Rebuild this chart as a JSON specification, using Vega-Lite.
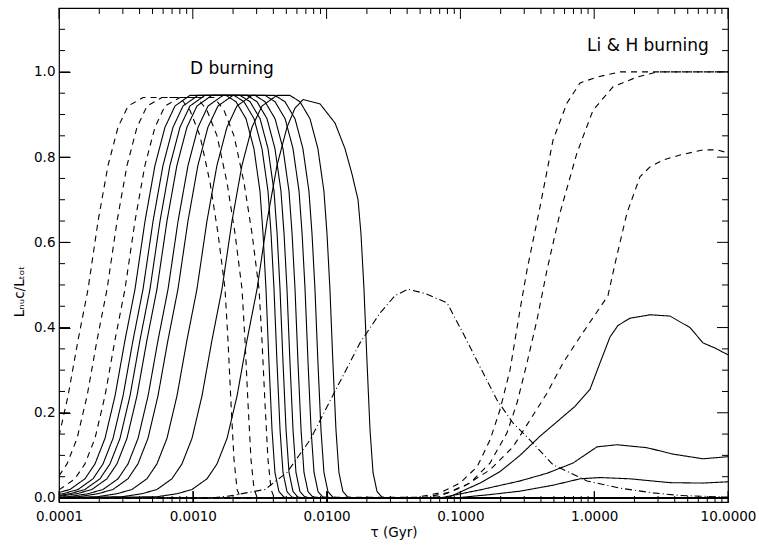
{
"$schema": "https://vega.github.io/schema/vega-lite/v6.json",
"width": 669, "height": 494, "autosize": "none",
"padding": {"left": 59, "top": 8, "right": 31, "bottom": 44},
"background": "white",
"config": {"view": {"stroke": "black", "strokeWidth": 1.2}, "font": "DejaVu Sans"},
"datasets": {
"notes": [{"t": 0.001963, "v": 1.008, "label": "D burning"}, {"t": 2.524, "v": 1.06, "label": "Li & H burning"}],
"xticks": [
{"t":0.0001,"a":-0.0094,"b":0.0164},{"t":0.001,"a":-0.0094,"b":0.0164},{"t":0.01,"a":-0.0094,"b":0.0164},{"t":0.1,"a":-0.0094,"b":0.0164},{"t":1,"a":-0.0094,"b":0.0164},{"t":10,"a":-0.0094,"b":0.0164},
{"t":0.0001,"a":1.1242,"b":1.15},{"t":0.001,"a":1.1242,"b":1.15},{"t":0.01,"a":1.1242,"b":1.15},{"t":0.1,"a":1.1242,"b":1.15},{"t":1,"a":1.1242,"b":1.15},{"t":10,"a":1.1242,"b":1.15},
{"t":0.0002,"a":-0.0094,"b":0.0047},{"t":0.0003,"a":-0.0094,"b":0.0047},{"t":0.0004,"a":-0.0094,"b":0.0047},{"t":0.0005,"a":-0.0094,"b":0.0047},{"t":0.0006,"a":-0.0094,"b":0.0047},{"t":0.0007,"a":-0.0094,"b":0.0047},{"t":0.0008,"a":-0.0094,"b":0.0047},{"t":0.0009,"a":-0.0094,"b":0.0047},
{"t":0.002,"a":-0.0094,"b":0.0047},{"t":0.003,"a":-0.0094,"b":0.0047},{"t":0.004,"a":-0.0094,"b":0.0047},{"t":0.005,"a":-0.0094,"b":0.0047},{"t":0.006,"a":-0.0094,"b":0.0047},{"t":0.007,"a":-0.0094,"b":0.0047},{"t":0.008,"a":-0.0094,"b":0.0047},{"t":0.009,"a":-0.0094,"b":0.0047},
{"t":0.02,"a":-0.0094,"b":0.0047},{"t":0.03,"a":-0.0094,"b":0.0047},{"t":0.04,"a":-0.0094,"b":0.0047},{"t":0.05,"a":-0.0094,"b":0.0047},{"t":0.06,"a":-0.0094,"b":0.0047},{"t":0.07,"a":-0.0094,"b":0.0047},{"t":0.08,"a":-0.0094,"b":0.0047},{"t":0.09,"a":-0.0094,"b":0.0047},
{"t":0.2,"a":-0.0094,"b":0.0047},{"t":0.3,"a":-0.0094,"b":0.0047},{"t":0.4,"a":-0.0094,"b":0.0047},{"t":0.5,"a":-0.0094,"b":0.0047},{"t":0.6,"a":-0.0094,"b":0.0047},{"t":0.7,"a":-0.0094,"b":0.0047},{"t":0.8,"a":-0.0094,"b":0.0047},{"t":0.9,"a":-0.0094,"b":0.0047},
{"t":2,"a":-0.0094,"b":0.0047},{"t":3,"a":-0.0094,"b":0.0047},{"t":4,"a":-0.0094,"b":0.0047},{"t":5,"a":-0.0094,"b":0.0047},{"t":6,"a":-0.0094,"b":0.0047},{"t":7,"a":-0.0094,"b":0.0047},{"t":8,"a":-0.0094,"b":0.0047},{"t":9,"a":-0.0094,"b":0.0047},
{"t":0.0002,"a":1.1359,"b":1.15},{"t":0.0003,"a":1.1359,"b":1.15},{"t":0.0004,"a":1.1359,"b":1.15},{"t":0.0005,"a":1.1359,"b":1.15},{"t":0.0006,"a":1.1359,"b":1.15},{"t":0.0007,"a":1.1359,"b":1.15},{"t":0.0008,"a":1.1359,"b":1.15},{"t":0.0009,"a":1.1359,"b":1.15},
{"t":0.002,"a":1.1359,"b":1.15},{"t":0.003,"a":1.1359,"b":1.15},{"t":0.004,"a":1.1359,"b":1.15},{"t":0.005,"a":1.1359,"b":1.15},{"t":0.006,"a":1.1359,"b":1.15},{"t":0.007,"a":1.1359,"b":1.15},{"t":0.008,"a":1.1359,"b":1.15},{"t":0.009,"a":1.1359,"b":1.15},
{"t":0.02,"a":1.1359,"b":1.15},{"t":0.03,"a":1.1359,"b":1.15},{"t":0.04,"a":1.1359,"b":1.15},{"t":0.05,"a":1.1359,"b":1.15},{"t":0.06,"a":1.1359,"b":1.15},{"t":0.07,"a":1.1359,"b":1.15},{"t":0.08,"a":1.1359,"b":1.15},{"t":0.09,"a":1.1359,"b":1.15},
{"t":0.2,"a":1.1359,"b":1.15},{"t":0.3,"a":1.1359,"b":1.15},{"t":0.4,"a":1.1359,"b":1.15},{"t":0.5,"a":1.1359,"b":1.15},{"t":0.6,"a":1.1359,"b":1.15},{"t":0.7,"a":1.1359,"b":1.15},{"t":0.8,"a":1.1359,"b":1.15},{"t":0.9,"a":1.1359,"b":1.15},
{"t":2,"a":1.1359,"b":1.15},{"t":3,"a":1.1359,"b":1.15},{"t":4,"a":1.1359,"b":1.15},{"t":5,"a":1.1359,"b":1.15},{"t":6,"a":1.1359,"b":1.15},{"t":7,"a":1.1359,"b":1.15},{"t":8,"a":1.1359,"b":1.15},{"t":9,"a":1.1359,"b":1.15}
],
"yticks": [
{"v":0,"a":0.0001,"b":0.00012084},{"v":0.2,"a":0.0001,"b":0.00012084},{"v":0.4,"a":0.0001,"b":0.00012084},{"v":0.6,"a":0.0001,"b":0.00012084},{"v":0.8,"a":0.0001,"b":0.00012084},{"v":1.0,"a":0.0001,"b":0.00012084},
{"v":0,"a":8.275,"b":10},{"v":0.2,"a":8.275,"b":10},{"v":0.4,"a":8.275,"b":10},{"v":0.6,"a":8.275,"b":10},{"v":0.8,"a":8.275,"b":10},{"v":1.0,"a":8.275,"b":10},
{"v":0.05,"a":0.0001,"b":0.00011089},{"v":0.1,"a":0.0001,"b":0.00011089},{"v":0.15,"a":0.0001,"b":0.00011089},{"v":0.25,"a":0.0001,"b":0.00011089},{"v":0.3,"a":0.0001,"b":0.00011089},{"v":0.35,"a":0.0001,"b":0.00011089},{"v":0.45,"a":0.0001,"b":0.00011089},{"v":0.5,"a":0.0001,"b":0.00011089},{"v":0.55,"a":0.0001,"b":0.00011089},{"v":0.65,"a":0.0001,"b":0.00011089},{"v":0.7,"a":0.0001,"b":0.00011089},{"v":0.75,"a":0.0001,"b":0.00011089},{"v":0.85,"a":0.0001,"b":0.00011089},{"v":0.9,"a":0.0001,"b":0.00011089},{"v":0.95,"a":0.0001,"b":0.00011089},{"v":1.05,"a":0.0001,"b":0.00011089},{"v":1.1,"a":0.0001,"b":0.00011089},
{"v":0.05,"a":9.019,"b":10},{"v":0.1,"a":9.019,"b":10},{"v":0.15,"a":9.019,"b":10},{"v":0.25,"a":9.019,"b":10},{"v":0.3,"a":9.019,"b":10},{"v":0.35,"a":9.019,"b":10},{"v":0.45,"a":9.019,"b":10},{"v":0.5,"a":9.019,"b":10},{"v":0.55,"a":9.019,"b":10},{"v":0.65,"a":9.019,"b":10},{"v":0.7,"a":9.019,"b":10},{"v":0.75,"a":9.019,"b":10},{"v":0.85,"a":9.019,"b":10},{"v":0.9,"a":9.019,"b":10},{"v":0.95,"a":9.019,"b":10},{"v":1.05,"a":9.019,"b":10},{"v":1.1,"a":9.019,"b":10}
],
"curves": [
{"id":"D1","s":"dashed","t":0.0001,"v":0.145},{"id":"D1","s":"dashed","t":0.0001169,"v":0.24},{"id":"D1","s":"dashed","t":0.0001387,"v":0.37},{"id":"D1","s":"dashed","t":0.0001648,"v":0.49},{"id":"D1","s":"dashed","t":0.0001959,"v":0.65},{"id":"D1","s":"dashed","t":0.0002323,"v":0.78},{"id":"D1","s":"dashed","t":0.000276,"v":0.87},{"id":"D1","s":"dashed","t":0.0003281,"v":0.92},{"id":"D1","s":"dashed","t":0.0004246,"v":0.94},{"id":"D1","s":"dashed","t":0.0008035,"v":0.94},{"id":"D1","s":"dashed","t":0.000952,"v":0.91},{"id":"D1","s":"dashed","t":0.001132,"v":0.85},{"id":"D1","s":"dashed","t":0.001346,"v":0.74},{"id":"D1","s":"dashed","t":0.001545,"v":0.62},{"id":"D1","s":"dashed","t":0.001742,"v":0.49},{"id":"D1","s":"dashed","t":0.001832,"v":0.37},{"id":"D1","s":"dashed","t":0.001932,"v":0.22},{"id":"D1","s":"dashed","t":0.002032,"v":0.09},{"id":"D1","s":"dashed","t":0.002143,"v":0.02},{"id":"D1","s":"dashed","t":0.002254,"v":0.002},{"id":"D1","s":"dashed","t":0.002541,"v":0},{"id":"D1","s":"dashed","t":10,"v":0},
{"id":"D2","s":"dashed","t":0.0001,"v":0.052},{"id":"D2","s":"dashed","t":0.0001148,"v":0.08},{"id":"D2","s":"dashed","t":0.0001365,"v":0.14},{"id":"D2","s":"dashed","t":0.0001622,"v":0.24},{"id":"D2","s":"dashed","t":0.0001923,"v":0.37},{"id":"D2","s":"dashed","t":0.0002286,"v":0.49},{"id":"D2","s":"dashed","t":0.0002716,"v":0.65},{"id":"D2","s":"dashed","t":0.0003221,"v":0.78},{"id":"D2","s":"dashed","t":0.0003828,"v":0.87},{"id":"D2","s":"dashed","t":0.000455,"v":0.92},{"id":"D2","s":"dashed","t":0.0005888,"v":0.94},{"id":"D2","s":"dashed","t":0.001076,"v":0.94},{"id":"D2","s":"dashed","t":0.001276,"v":0.91},{"id":"D2","s":"dashed","t":0.001517,"v":0.85},{"id":"D2","s":"dashed","t":0.001803,"v":0.74},{"id":"D2","s":"dashed","t":0.00207,"v":0.62},{"id":"D2","s":"dashed","t":0.002333,"v":0.49},{"id":"D2","s":"dashed","t":0.002455,"v":0.37},{"id":"D2","s":"dashed","t":0.002588,"v":0.22},{"id":"D2","s":"dashed","t":0.002723,"v":0.09},{"id":"D2","s":"dashed","t":0.002871,"v":0.02},{"id":"D2","s":"dashed","t":0.00302,"v":0.002},{"id":"D2","s":"dashed","t":0.003404,"v":0},{"id":"D2","s":"dashed","t":10,"v":0},
{"id":"D3","s":"dashed","t":0.0001,"v":0.019},{"id":"D3","s":"dashed","t":0.0001315,"v":0.045},{"id":"D3","s":"dashed","t":0.0001563,"v":0.08},{"id":"D3","s":"dashed","t":0.0001858,"v":0.14},{"id":"D3","s":"dashed","t":0.0002208,"v":0.24},{"id":"D3","s":"dashed","t":0.0002618,"v":0.37},{"id":"D3","s":"dashed","t":0.0003112,"v":0.49},{"id":"D3","s":"dashed","t":0.0003698,"v":0.65},{"id":"D3","s":"dashed","t":0.0004385,"v":0.78},{"id":"D3","s":"dashed","t":0.0005212,"v":0.87},{"id":"D3","s":"dashed","t":0.0006194,"v":0.92},{"id":"D3","s":"dashed","t":0.0008017,"v":0.94},{"id":"D3","s":"dashed","t":0.001442,"v":0.94},{"id":"D3","s":"dashed","t":0.00171,"v":0.91},{"id":"D3","s":"dashed","t":0.002032,"v":0.85},{"id":"D3","s":"dashed","t":0.002415,"v":0.74},{"id":"D3","s":"dashed","t":0.002773,"v":0.62},{"id":"D3","s":"dashed","t":0.003126,"v":0.49},{"id":"D3","s":"dashed","t":0.003289,"v":0.37},{"id":"D3","s":"dashed","t":0.003467,"v":0.22},{"id":"D3","s":"dashed","t":0.003648,"v":0.09},{"id":"D3","s":"dashed","t":0.003846,"v":0.02},{"id":"D3","s":"dashed","t":0.004046,"v":0.002},{"id":"D3","s":"dashed","t":0.00456,"v":0},{"id":"D3","s":"dashed","t":10,"v":0},
{"id":"S1","s":"solid","t":0.0001,"v":0.013},{"id":"S1","s":"solid","t":0.0001208,"v":0.02},{"id":"S1","s":"solid","t":0.0001563,"v":0.045},{"id":"S1","s":"solid","t":0.0001858,"v":0.08},{"id":"S1","s":"solid","t":0.0002208,"v":0.14},{"id":"S1","s":"solid","t":0.0002624,"v":0.24},{"id":"S1","s":"solid","t":0.0003112,"v":0.37},{"id":"S1","s":"solid","t":0.0003698,"v":0.49},{"id":"S1","s":"solid","t":0.0004395,"v":0.65},{"id":"S1","s":"solid","t":0.0005212,"v":0.78},{"id":"S1","s":"solid","t":0.0006194,"v":0.87},{"id":"S1","s":"solid","t":0.0007362,"v":0.92},{"id":"S1","s":"solid","t":0.000952,"v":0.945},{"id":"S1","s":"solid","t":0.00177,"v":0.945},{"id":"S1","s":"solid","t":0.002104,"v":0.93},{"id":"S1","s":"solid","t":0.0025,"v":0.89},{"id":"S1","s":"solid","t":0.002864,"v":0.82},{"id":"S1","s":"solid","t":0.003177,"v":0.72},{"id":"S1","s":"solid","t":0.00335,"v":0.62},{"id":"S1","s":"solid","t":0.003524,"v":0.49},{"id":"S1","s":"solid","t":0.003707,"v":0.32},{"id":"S1","s":"solid","t":0.003908,"v":0.16},{"id":"S1","s":"solid","t":0.004111,"v":0.06},{"id":"S1","s":"solid","t":0.004406,"v":0.015},{"id":"S1","s":"solid","t":0.004797,"v":0.002},{"id":"S1","s":"solid","t":0.00542,"v":0},{"id":"S1","s":"solid","t":10,"v":0},
{"id":"S2","s":"solid","t":0.0001,"v":0.009},{"id":"S2","s":"solid","t":0.0001072,"v":0.01},{"id":"S2","s":"solid","t":0.0001387,"v":0.02},{"id":"S2","s":"solid","t":0.0001795,"v":0.045},{"id":"S2","s":"solid","t":0.0002133,"v":0.08},{"id":"S2","s":"solid","t":0.0002535,"v":0.14},{"id":"S2","s":"solid","t":0.0003013,"v":0.24},{"id":"S2","s":"solid","t":0.0003573,"v":0.37},{"id":"S2","s":"solid","t":0.0004246,"v":0.49},{"id":"S2","s":"solid","t":0.0005047,"v":0.65},{"id":"S2","s":"solid","t":0.0005984,"v":0.78},{"id":"S2","s":"solid","t":0.0007112,"v":0.87},{"id":"S2","s":"solid","t":0.0008453,"v":0.92},{"id":"S2","s":"solid","t":0.001094,"v":0.945},{"id":"S2","s":"solid","t":0.002032,"v":0.945},{"id":"S2","s":"solid","t":0.002415,"v":0.93},{"id":"S2","s":"solid","t":0.002871,"v":0.89},{"id":"S2","s":"solid","t":0.003289,"v":0.82},{"id":"S2","s":"solid","t":0.003648,"v":0.72},{"id":"S2","s":"solid","t":0.003846,"v":0.62},{"id":"S2","s":"solid","t":0.004046,"v":0.49},{"id":"S2","s":"solid","t":0.004256,"v":0.32},{"id":"S2","s":"solid","t":0.004487,"v":0.16},{"id":"S2","s":"solid","t":0.004721,"v":0.06},{"id":"S2","s":"solid","t":0.005058,"v":0.015},{"id":"S2","s":"solid","t":0.005508,"v":0.002},{"id":"S2","s":"solid","t":0.006223,"v":0},{"id":"S2","s":"solid","t":10,"v":0},
{"id":"S3","s":"solid","t":0.0001,"v":0.006},{"id":"S3","s":"solid","t":0.0001208,"v":0.01},{"id":"S3","s":"solid","t":0.0001563,"v":0.02},{"id":"S3","s":"solid","t":0.0002023,"v":0.045},{"id":"S3","s":"solid","t":0.0002404,"v":0.08},{"id":"S3","s":"solid","t":0.0002858,"v":0.14},{"id":"S3","s":"solid","t":0.0003396,"v":0.24},{"id":"S3","s":"solid","t":0.0004027,"v":0.37},{"id":"S3","s":"solid","t":0.0004786,"v":0.49},{"id":"S3","s":"solid","t":0.0005689,"v":0.65},{"id":"S3","s":"solid","t":0.0006745,"v":0.78},{"id":"S3","s":"solid","t":0.0008017,"v":0.87},{"id":"S3","s":"solid","t":0.000952,"v":0.92},{"id":"S3","s":"solid","t":0.001233,"v":0.945},{"id":"S3","s":"solid","t":0.002254,"v":0.945},{"id":"S3","s":"solid","t":0.002679,"v":0.93},{"id":"S3","s":"solid","t":0.003184,"v":0.89},{"id":"S3","s":"solid","t":0.003648,"v":0.82},{"id":"S3","s":"solid","t":0.004046,"v":0.72},{"id":"S3","s":"solid","t":0.004266,"v":0.62},{"id":"S3","s":"solid","t":0.004487,"v":0.49},{"id":"S3","s":"solid","t":0.004721,"v":0.32},{"id":"S3","s":"solid","t":0.004977,"v":0.16},{"id":"S3","s":"solid","t":0.005236,"v":0.06},{"id":"S3","s":"solid","t":0.00561,"v":0.015},{"id":"S3","s":"solid","t":0.006109,"v":0.002},{"id":"S3","s":"solid","t":0.006902,"v":0},{"id":"S3","s":"solid","t":10,"v":0},
{"id":"S4","s":"solid","t":0.0001,"v":0.004},{"id":"S4","s":"solid","t":0.0001361,"v":0.01},{"id":"S4","s":"solid","t":0.0001762,"v":0.02},{"id":"S4","s":"solid","t":0.000228,"v":0.045},{"id":"S4","s":"solid","t":0.000271,"v":0.08},{"id":"S4","s":"solid","t":0.0003221,"v":0.14},{"id":"S4","s":"solid","t":0.0003828,"v":0.24},{"id":"S4","s":"solid","t":0.0004539,"v":0.37},{"id":"S4","s":"solid","t":0.0005395,"v":0.49},{"id":"S4","s":"solid","t":0.0006412,"v":0.65},{"id":"S4","s":"solid","t":0.0007603,"v":0.78},{"id":"S4","s":"solid","t":0.0009036,"v":0.87},{"id":"S4","s":"solid","t":0.001074,"v":0.92},{"id":"S4","s":"solid","t":0.00139,"v":0.945},{"id":"S4","s":"solid","t":0.002541,"v":0.945},{"id":"S4","s":"solid","t":0.00302,"v":0.93},{"id":"S4","s":"solid","t":0.003589,"v":0.89},{"id":"S4","s":"solid","t":0.004111,"v":0.82},{"id":"S4","s":"solid","t":0.00456,"v":0.72},{"id":"S4","s":"solid","t":0.004808,"v":0.62},{"id":"S4","s":"solid","t":0.005058,"v":0.49},{"id":"S4","s":"solid","t":0.005321,"v":0.32},{"id":"S4","s":"solid","t":0.00561,"v":0.16},{"id":"S4","s":"solid","t":0.005902,"v":0.06},{"id":"S4","s":"solid","t":0.006324,"v":0.015},{"id":"S4","s":"solid","t":0.006887,"v":0.002},{"id":"S4","s":"solid","t":0.00778,"v":0},{"id":"S4","s":"solid","t":10,"v":0},
{"id":"S5","s":"solid","t":0.0001,"v":0.002},{"id":"S5","s":"solid","t":0.0001169,"v":0.003},{"id":"S5","s":"solid","t":0.0001648,"v":0.01},{"id":"S5","s":"solid","t":0.0002133,"v":0.02},{"id":"S5","s":"solid","t":0.000276,"v":0.045},{"id":"S5","s":"solid","t":0.0003281,"v":0.08},{"id":"S5","s":"solid","t":0.0003899,"v":0.14},{"id":"S5","s":"solid","t":0.0004634,"v":0.24},{"id":"S5","s":"solid","t":0.0005495,"v":0.37},{"id":"S5","s":"solid","t":0.0006531,"v":0.49},{"id":"S5","s":"solid","t":0.0007762,"v":0.65},{"id":"S5","s":"solid","t":0.0009204,"v":0.78},{"id":"S5","s":"solid","t":0.001094,"v":0.87},{"id":"S5","s":"solid","t":0.0013,"v":0.92},{"id":"S5","s":"solid","t":0.001683,"v":0.945},{"id":"S5","s":"solid","t":0.002917,"v":0.945},{"id":"S5","s":"solid","t":0.003467,"v":0.93},{"id":"S5","s":"solid","t":0.004121,"v":0.89},{"id":"S5","s":"solid","t":0.004721,"v":0.82},{"id":"S5","s":"solid","t":0.005236,"v":0.72},{"id":"S5","s":"solid","t":0.005521,"v":0.62},{"id":"S5","s":"solid","t":0.005808,"v":0.49},{"id":"S5","s":"solid","t":0.006109,"v":0.32},{"id":"S5","s":"solid","t":0.006442,"v":0.16},{"id":"S5","s":"solid","t":0.006776,"v":0.06},{"id":"S5","s":"solid","t":0.007261,"v":0.015},{"id":"S5","s":"solid","t":0.007907,"v":0.002},{"id":"S5","s":"solid","t":0.00893,"v":0},{"id":"S5","s":"solid","t":10,"v":0},
{"id":"S6","s":"solid","t":0.0001,"v":0.001},{"id":"S6","s":"solid","t":0.0001387,"v":0.003},{"id":"S6","s":"solid","t":0.0001954,"v":0.01},{"id":"S6","s":"solid","t":0.0002529,"v":0.02},{"id":"S6","s":"solid","t":0.0003273,"v":0.045},{"id":"S6","s":"solid","t":0.000389,"v":0.08},{"id":"S6","s":"solid","t":0.0004624,"v":0.14},{"id":"S6","s":"solid","t":0.0005495,"v":0.24},{"id":"S6","s":"solid","t":0.0006516,"v":0.37},{"id":"S6","s":"solid","t":0.0007745,"v":0.49},{"id":"S6","s":"solid","t":0.0009204,"v":0.65},{"id":"S6","s":"solid","t":0.001091,"v":0.78},{"id":"S6","s":"solid","t":0.001297,"v":0.87},{"id":"S6","s":"solid","t":0.001542,"v":0.92},{"id":"S6","s":"solid","t":0.001995,"v":0.945},{"id":"S6","s":"solid","t":0.003467,"v":0.945},{"id":"S6","s":"solid","t":0.004121,"v":0.93},{"id":"S6","s":"solid","t":0.004898,"v":0.89},{"id":"S6","s":"solid","t":0.00561,"v":0.82},{"id":"S6","s":"solid","t":0.006223,"v":0.72},{"id":"S6","s":"solid","t":0.006561,"v":0.62},{"id":"S6","s":"solid","t":0.006902,"v":0.49},{"id":"S6","s":"solid","t":0.007261,"v":0.32},{"id":"S6","s":"solid","t":0.007656,"v":0.16},{"id":"S6","s":"solid","t":0.008054,"v":0.06},{"id":"S6","s":"solid","t":0.00863,"v":0.015},{"id":"S6","s":"solid","t":0.009397,"v":0.002},{"id":"S6","s":"solid","t":0.01062,"v":0},{"id":"S6","s":"solid","t":10,"v":0},
{"id":"S7","s":"solid","t":0.0001,"v":0.0005},{"id":"S7","s":"solid","t":0.0001923,"v":0.003},{"id":"S7","s":"solid","t":0.000271,"v":0.01},{"id":"S7","s":"solid","t":0.0003508,"v":0.02},{"id":"S7","s":"solid","t":0.0004539,"v":0.045},{"id":"S7","s":"solid","t":0.0005395,"v":0.08},{"id":"S7","s":"solid","t":0.0006412,"v":0.14},{"id":"S7","s":"solid","t":0.0007621,"v":0.24},{"id":"S7","s":"solid","t":0.0009036,"v":0.37},{"id":"S7","s":"solid","t":0.001074,"v":0.49},{"id":"S7","s":"solid","t":0.001276,"v":0.65},{"id":"S7","s":"solid","t":0.001514,"v":0.78},{"id":"S7","s":"solid","t":0.001799,"v":0.87},{"id":"S7","s":"solid","t":0.002138,"v":0.92},{"id":"S7","s":"solid","t":0.002767,"v":0.945},{"id":"S7","s":"solid","t":0.004111,"v":0.945},{"id":"S7","s":"solid","t":0.004887,"v":0.93},{"id":"S7","s":"solid","t":0.005808,"v":0.89},{"id":"S7","s":"solid","t":0.006653,"v":0.82},{"id":"S7","s":"solid","t":0.007379,"v":0.72},{"id":"S7","s":"solid","t":0.00778,"v":0.62},{"id":"S7","s":"solid","t":0.008185,"v":0.49},{"id":"S7","s":"solid","t":0.00861,"v":0.32},{"id":"S7","s":"solid","t":0.009078,"v":0.16},{"id":"S7","s":"solid","t":0.00955,"v":0.06},{"id":"S7","s":"solid","t":0.01023,"v":0.015},{"id":"S7","s":"solid","t":0.01114,"v":0.002},{"id":"S7","s":"solid","t":0.01259,"v":0},{"id":"S7","s":"solid","t":10,"v":0},
{"id":"S8","s":"solid","t":0.0001,"v":0},{"id":"S8","s":"solid","t":0.0002958,"v":0.003},{"id":"S8","s":"solid","t":0.0004169,"v":0.01},{"id":"S8","s":"solid","t":0.0005395,"v":0.02},{"id":"S8","s":"solid","t":0.0006982,"v":0.045},{"id":"S8","s":"solid","t":0.0008299,"v":0.08},{"id":"S8","s":"solid","t":0.0009863,"v":0.14},{"id":"S8","s":"solid","t":0.001172,"v":0.24},{"id":"S8","s":"solid","t":0.00139,"v":0.37},{"id":"S8","s":"solid","t":0.001652,"v":0.49},{"id":"S8","s":"solid","t":0.001963,"v":0.65},{"id":"S8","s":"solid","t":0.002328,"v":0.78},{"id":"S8","s":"solid","t":0.002767,"v":0.87},{"id":"S8","s":"solid","t":0.003289,"v":0.92},{"id":"S8","s":"solid","t":0.004256,"v":0.945},{"id":"S8","s":"solid","t":0.005321,"v":0.945},{"id":"S8","s":"solid","t":0.006324,"v":0.93},{"id":"S8","s":"solid","t":0.007516,"v":0.89},{"id":"S8","s":"solid","t":0.00861,"v":0.82},{"id":"S8","s":"solid","t":0.00955,"v":0.72},{"id":"S8","s":"solid","t":0.01007,"v":0.62},{"id":"S8","s":"solid","t":0.01059,"v":0.49},{"id":"S8","s":"solid","t":0.01114,"v":0.32},{"id":"S8","s":"solid","t":0.01175,"v":0.16},{"id":"S8","s":"solid","t":0.01236,"v":0.06},{"id":"S8","s":"solid","t":0.01324,"v":0.015},{"id":"S8","s":"solid","t":0.01442,"v":0.002},{"id":"S8","s":"solid","t":0.01629,"v":0},{"id":"S8","s":"solid","t":10,"v":0},
{"id":"S9","s":"solid","t":0.0001,"v":0},{"id":"S9","s":"solid","t":0.0005408,"v":0.003},{"id":"S9","s":"solid","t":0.0007621,"v":0.01},{"id":"S9","s":"solid","t":0.0009863,"v":0.02},{"id":"S9","s":"solid","t":0.001276,"v":0.045},{"id":"S9","s":"solid","t":0.001517,"v":0.08},{"id":"S9","s":"solid","t":0.001803,"v":0.14},{"id":"S9","s":"solid","t":0.002143,"v":0.24},{"id":"S9","s":"solid","t":0.002541,"v":0.37},{"id":"S9","s":"solid","t":0.00302,"v":0.49},{"id":"S9","s":"solid","t":0.003589,"v":0.65},{"id":"S9","s":"solid","t":0.004256,"v":0.78},{"id":"S9","s":"solid","t":0.005058,"v":0.87},{"id":"S9","s":"solid","t":0.005808,"v":0.915},{"id":"S9","s":"solid","t":0.006668,"v":0.935},{"id":"S9","s":"solid","t":0.00893,"v":0.925},{"id":"S9","s":"solid","t":0.01156,"v":0.88},{"id":"S9","s":"solid","t":0.01372,"v":0.82},{"id":"S9","s":"solid","t":0.01549,"v":0.76},{"id":"S9","s":"solid","t":0.01718,"v":0.7},{"id":"S9","s":"solid","t":0.01807,"v":0.62},{"id":"S9","s":"solid","t":0.01903,"v":0.49},{"id":"S9","s":"solid","t":0.02004,"v":0.32},{"id":"S9","s":"solid","t":0.02111,"v":0.16},{"id":"S9","s":"solid","t":0.02223,"v":0.06},{"id":"S9","s":"solid","t":0.02382,"v":0.015},{"id":"S9","s":"solid","t":0.02594,"v":0.002},{"id":"S9","s":"solid","t":0.02924,"v":0},{"id":"S9","s":"solid","t":10,"v":0},
{"id":"DD","s":"dashdot","t":0.0001,"v":0},{"id":"DD","s":"dashdot","t":0.001345,"v":0},{"id":"DD","s":"dashdot","t":0.001897,"v":0.005},{"id":"DD","s":"dashdot","t":0.003465,"v":0.02},{"id":"DD","s":"dashdot","t":0.005058,"v":0.06},{"id":"DD","s":"dashdot","t":0.007514,"v":0.136},{"id":"DD","s":"dashdot","t":0.01098,"v":0.237},{"id":"DD","s":"dashdot","t":0.01777,"v":0.364},{"id":"DD","s":"dashdot","t":0.02507,"v":0.434},{"id":"DD","s":"dashdot","t":0.03245,"v":0.475},{"id":"DD","s":"dashdot","t":0.04059,"v":0.49},{"id":"DD","s":"dashdot","t":0.05437,"v":0.48},{"id":"DD","s":"dashdot","t":0.07941,"v":0.458},{"id":"DD","s":"dashdot","t":0.1046,"v":0.387},{"id":"DD","s":"dashdot","t":0.1401,"v":0.308},{"id":"DD","s":"dashdot","t":0.1877,"v":0.23},{"id":"DD","s":"dashdot","t":0.2472,"v":0.176},{"id":"DD","s":"dashdot","t":0.3313,"v":0.136},{"id":"DD","s":"dashdot","t":0.4922,"v":0.078},{"id":"DD","s":"dashdot","t":0.8837,"v":0.04},{"id":"DD","s":"dashdot","t":1.559,"v":0.023},{"id":"DD","s":"dashdot","t":2.751,"v":0.012},{"id":"DD","s":"dashdot","t":4.379,"v":0.006},{"id":"DD","s":"dashdot","t":10,"v":0.002},
{"id":"H1","s":"dashed","t":0.0001,"v":0},{"id":"H1","s":"dashed","t":0.04422,"v":0},{"id":"H1","s":"dashed","t":0.0704,"v":0.012},{"id":"H1","s":"dashed","t":0.0993,"v":0.035},{"id":"H1","s":"dashed","t":0.1331,"v":0.073},{"id":"H1","s":"dashed","t":0.1664,"v":0.136},{"id":"H1","s":"dashed","t":0.1977,"v":0.207},{"id":"H1","s":"dashed","t":0.2348,"v":0.3},{"id":"H1","s":"dashed","t":0.2789,"v":0.441},{"id":"H1","s":"dashed","t":0.3146,"v":0.535},{"id":"H1","s":"dashed","t":0.3935,"v":0.683},{"id":"H1","s":"dashed","t":0.4922,"v":0.84},{"id":"H1","s":"dashed","t":0.6262,"v":0.927},{"id":"H1","s":"dashed","t":0.7832,"v":0.974},{"id":"H1","s":"dashed","t":1.049,"v":0.988},{"id":"H1","s":"dashed","t":1.559,"v":1.0},{"id":"H1","s":"dashed","t":10,"v":1.0},
{"id":"H2","s":"dashed","t":0.0001,"v":0},{"id":"H2","s":"dashed","t":0.05254,"v":0},{"id":"H2","s":"dashed","t":0.07941,"v":0.012},{"id":"H2","s":"dashed","t":0.118,"v":0.035},{"id":"H2","s":"dashed","t":0.1664,"v":0.082},{"id":"H2","s":"dashed","t":0.223,"v":0.153},{"id":"H2","s":"dashed","t":0.2649,"v":0.223},{"id":"H2","s":"dashed","t":0.3146,"v":0.317},{"id":"H2","s":"dashed","t":0.3737,"v":0.418},{"id":"H2","s":"dashed","t":0.4438,"v":0.535},{"id":"H2","s":"dashed","t":0.5551,"v":0.669},{"id":"H2","s":"dashed","t":0.7436,"v":0.81},{"id":"H2","s":"dashed","t":0.9795,"v":0.91},{"id":"H2","s":"dashed","t":1.382,"v":0.965},{"id":"H2","s":"dashed","t":2.089,"v":0.988},{"id":"H2","s":"dashed","t":2.947,"v":1.0},{"id":"H2","s":"dashed","t":10,"v":1.0},
{"id":"H3","s":"dashed","t":0.0001,"v":0},{"id":"H3","s":"dashed","t":0.06685,"v":0.002},{"id":"H3","s":"dashed","t":0.1046,"v":0.026},{"id":"H3","s":"dashed","t":0.1664,"v":0.066},{"id":"H3","s":"dashed","t":0.2472,"v":0.12},{"id":"H3","s":"dashed","t":0.3313,"v":0.183},{"id":"H3","s":"dashed","t":0.4438,"v":0.246},{"id":"H3","s":"dashed","t":0.5845,"v":0.317},{"id":"H3","s":"dashed","t":0.7832,"v":0.378},{"id":"H3","s":"dashed","t":1.014,"v":0.43},{"id":"H3","s":"dashed","t":1.268,"v":0.475},{"id":"H3","s":"dashed","t":1.431,"v":0.55},{"id":"H3","s":"dashed","t":1.758,"v":0.669},{"id":"H3","s":"dashed","t":2.199,"v":0.754},{"id":"H3","s":"dashed","t":2.612,"v":0.777},{"id":"H3","s":"dashed","t":3.268,"v":0.793},{"id":"H3","s":"dashed","t":4.379,"v":0.805},{"id":"H3","s":"dashed","t":6.504,"v":0.817},{"id":"H3","s":"dashed","t":8.277,"v":0.817},{"id":"H3","s":"dashed","t":10,"v":0.81},
{"id":"L1","s":"solid","t":0.0001,"v":0},{"id":"L1","s":"solid","t":0.07941,"v":0},{"id":"L1","s":"solid","t":0.1401,"v":0.035},{"id":"L1","s":"solid","t":0.1977,"v":0.062},{"id":"L1","s":"solid","t":0.2789,"v":0.1},{"id":"L1","s":"solid","t":0.3935,"v":0.145},{"id":"L1","s":"solid","t":0.5551,"v":0.185},{"id":"L1","s":"solid","t":0.7186,"v":0.215},{"id":"L1","s":"solid","t":0.9302,"v":0.255},{"id":"L1","s":"solid","t":1.105,"v":0.317},{"id":"L1","s":"solid","t":1.313,"v":0.378},{"id":"L1","s":"solid","t":1.506,"v":0.405},{"id":"L1","s":"solid","t":1.852,"v":0.422},{"id":"L1","s":"solid","t":2.612,"v":0.43},{"id":"L1","s":"solid","t":3.686,"v":0.427},{"id":"L1","s":"solid","t":5.2,"v":0.4},{"id":"L1","s":"solid","t":6.504,"v":0.364},{"id":"L1","s":"solid","t":7.995,"v":0.352},{"id":"L1","s":"solid","t":10,"v":0.336},
{"id":"L2","s":"solid","t":0.0001,"v":0},{"id":"L2","s":"solid","t":0.0704,"v":0},{"id":"L2","s":"solid","t":0.1401,"v":0.019},{"id":"L2","s":"solid","t":0.2789,"v":0.04},{"id":"L2","s":"solid","t":0.4438,"v":0.058},{"id":"L2","s":"solid","t":0.6944,"v":0.082},{"id":"L2","s":"solid","t":1.049,"v":0.12},{"id":"L2","s":"solid","t":1.48,"v":0.125},{"id":"L2","s":"solid","t":2.481,"v":0.118},{"id":"L2","s":"solid","t":3.878,"v":0.103},{"id":"L2","s":"solid","t":6.504,"v":0.092},{"id":"L2","s":"solid","t":10,"v":0.097},
{"id":"L3","s":"solid","t":0.0001,"v":0},{"id":"L3","s":"solid","t":0.09112,"v":0},{"id":"L3","s":"solid","t":0.1664,"v":0.008},{"id":"L3","s":"solid","t":0.2789,"v":0.016},{"id":"L3","s":"solid","t":0.4922,"v":0.03},{"id":"L3","s":"solid","t":0.7832,"v":0.045},{"id":"L3","s":"solid","t":1.105,"v":0.048},{"id":"L3","s":"solid","t":1.852,"v":0.045},{"id":"L3","s":"solid","t":3.686,"v":0.036},{"id":"L3","s":"solid","t":6.504,"v":0.035},{"id":"L3","s":"solid","t":10,"v":0.038}
]},
"layer": [
{"data": {"name": "curves"},
 "mark": {"type": "line", "color": "black", "strokeWidth": 1.1, "clip": true},
 "encoding": {
  "x": {"field": "t", "type": "quantitative", "scale": {"type": "log", "domain": [0.0001, 10], "nice": false},
   "axis": {"orient": "bottom", "offset": -11, "values": [0.0001, 0.001, 0.01, 0.1, 1, 10], "format": ".4f", "tickSize": 11, "tickColor": "black", "domain": false, "labelColor": "black", "labelFont": "DejaVu Sans", "labelFontSize": 13.5, "labelPadding": 7, "labelFlush": false, "labelOverlap": false, "grid": false, "title": "τ (Gyr)", "titleFont": "DejaVu Sans", "titleFontSize": 13.5, "titleFontWeight": "normal", "titleColor": "black", "titlePadding": 3}},
  "y": {"field": "v", "type": "quantitative", "scale": {"domain": [-0.0094, 1.15], "nice": false, "zero": false},
   "axis": {"orient": "left", "offset": -11, "values": [0, 0.2, 0.4, 0.6, 0.8, 1.0], "format": ".1f", "tickSize": 11, "tickColor": "black", "domain": false, "labelColor": "black", "labelFont": "DejaVu Sans", "labelFontSize": 13.5, "labelPadding": 4, "grid": false, "title": "Lₙᵤc/Lₜₒₜ", "titleFont": "DejaVu Sans", "titleFontSize": 13.5, "titleFontWeight": "normal", "titleColor": "black", "titleX": -44, "titleY": 283}},
  "detail": {"field": "id", "type": "nominal"},
  "strokeDash": {"field": "s", "type": "nominal", "scale": {"domain": ["solid", "dashed", "dashdot"], "range": [[1, 0], [6, 5], [7, 3, 1, 3]]}, "legend": null}
 }},
{"data": {"name": "notes"},
 "mark": {"type": "text", "fontSize": 17, "font": "DejaVu Sans", "color": "black", "align": "center", "baseline": "middle"},
 "encoding": {
  "x": {"field": "t", "type": "quantitative", "axis": null},
  "y": {"field": "v", "type": "quantitative", "axis": null},
  "text": {"field": "label"}
 }},
{"data": {"name": "xticks"},
 "mark": {"type": "rule", "color": "black", "strokeWidth": 1, "opacity": 1},
 "encoding": {
  "x": {"field": "t", "type": "quantitative", "axis": null},
  "y": {"field": "a", "type": "quantitative", "axis": null},
  "y2": {"field": "b"}
 }},
{"data": {"name": "yticks"},
 "mark": {"type": "rule", "color": "black", "strokeWidth": 1, "opacity": 1},
 "encoding": {
  "x": {"field": "a", "type": "quantitative", "axis": null},
  "x2": {"field": "b"},
  "y": {"field": "v", "type": "quantitative", "axis": null}
 }}
],
"resolve": {"axis": {"x": "independent", "y": "independent"}}
}
